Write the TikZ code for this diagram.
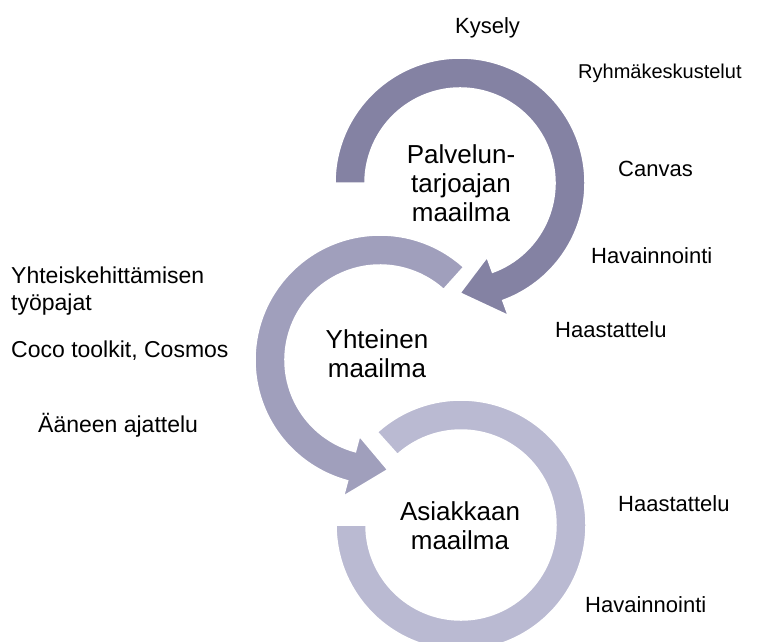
\documentclass[tikz,border=0pt]{standalone}
\usepackage{fontspec}
\setmainfont{Liberation Sans}
\definecolor{ringA}{RGB}{132,130,163}
\definecolor{ringB}{RGB}{160,159,188}
\definecolor{ringC}{RGB}{186,186,210}
\tikzset{
  band/.style={draw=white, line width=1.5pt, line join=miter},
  lbl/.style={inner sep=0pt, anchor=base west, font=\fontsize{22}{26}\selectfont},
  lbll/.style={lbl, font=\fontsize{23}{27}\selectfont},
  title/.style={inner sep=0pt, align=center, font=\fontsize{26}{29}\selectfont},
}
\begin{document}
\begin{tikzpicture}[x=1pt, y=1pt]
\useasboundingbox (0,0) rectangle (770,-641);

% customer world: open ring without a head
\begin{scope}[shift={(461,-525)}]
  \fill[ringC, band] (132:125) arc[start angle=132, end angle=-180, radius=125]
    -- (180:95) arc[start angle=-180, end angle=132, radius=95] -- cycle;
\end{scope}

% shared world: counter-clockwise arrow
\begin{scope}[shift={(380,-360)}]
  \fill[ringB, band] (48:125) arc[start angle=48, end angle=255, radius=125]
    -- (255:141) -- (274:110) -- (255:79) -- (255:95)
    arc[start angle=255, end angle=48, radius=95] -- cycle;
\end{scope}

% provider world: clockwise arrow
\begin{scope}[shift={(460,-183)}]
  \fill[ringA, band] (180:125) arc[start angle=180, end angle=-70, radius=125]
    -- (-70:141) -- (-90:110) -- (-70:79) -- (-70:95)
    arc[start angle=-70, end angle=180, radius=95] -- cycle;
\end{scope}

% world titles
\node[title] (provider) at (461,-183) {Palvelun-\\tarjoajan\\maailma};
\node[title] (shared) at (377,-354) {Yhteinen\\maailma};
\node[title] (customer) at (460,-526) {Asiakkaan\\maailma};

% methods
\node[lbl] (kysely) at (455,-33) {Kysely};
\node[lbl, font=\fontsize{20}{24}\selectfont] (ryhma) at (578,-78) {Ryhmäkeskustelut};
\node[lbl] (canvas) at (618,-176) {Canvas};
\node[lbl] (hav1) at (591,-263) {Havainnointi};
\node[lbl] (haas1) at (555,-337) {Haastattelu};
\node[lbll] (yhteis) at (11,-283) {Yhteiskehittämisen};
\node[lbll] (tyopajat) at (11,-310) {työpajat};
\node[lbll] (coco) at (11,-357) {Coco toolkit, Cosmos};
\node[lbll] (aaneen) at (38,-432) {Ääneen ajattelu};
\node[lbl] (haas2) at (618,-511) {Haastattelu};
\node[lbl] (hav2) at (585,-612) {Havainnointi};
\end{tikzpicture}
\end{document}
